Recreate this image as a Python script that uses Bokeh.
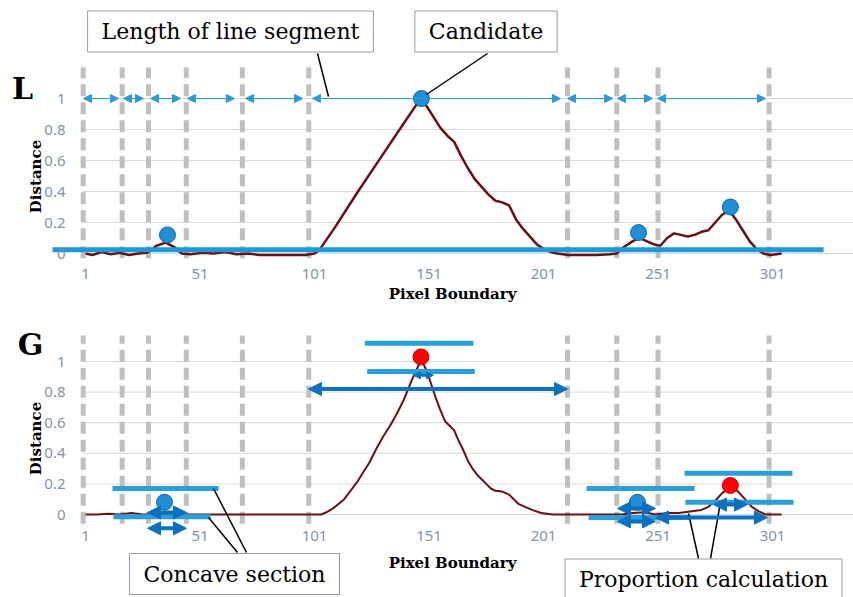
import math
from bokeh.plotting import figure
from bokeh.layouts import column
from bokeh.models import Range1d, FixedTicker, ColumnDataSource, Arrow, NormalHead, Label
from bokeh.embed import file_html
from bokeh.resources import INLINE

# ---------------- data ----------------
x_ticks = [1, 51, 101, 151, 201, 251, 301]
y_ticks = [0, 0.2, 0.4, 0.6, 0.8, 1]
y_tick_labels = ["0", "0.2", "0.4", "0.6", "0.8", "1"]

boundaries = [0, 17, 28.5, 45, 69.5, 98.5, 211.5, 233, 251, 299.5]

L_x = [1, 4, 8, 12, 16, 20, 24, 28, 32, 36, 40, 43, 47, 52, 57, 62, 67, 72, 77, 82,
       87, 92, 97, 101, 103, 110, 120, 130, 140, 146, 148, 150, 153, 156, 159, 162, 165, 168, 171, 174,
       177, 180, 183, 186, 189, 192, 195, 198, 201, 204, 207, 212, 218, 224, 230, 233, 236, 240, 243, 246,
       249, 252, 255, 258, 261, 264, 267, 270, 273, 276, 279, 282, 285, 288, 291, 294, 297, 300, 305]
L_y = [0.0, -0.01, 0.01, -0.005, 0.005, -0.01, 0.0, 0.005, 0.05, 0.07, 0.04, 0.0, -0.005, 0.005, 0.0, 0.01, -0.005, 0.0, -0.01, -0.01,
       -0.01, -0.01, -0.01, 0.0, 0.02, 0.17, 0.40, 0.62, 0.84, 0.97, 1.0, 0.95, 0.88, 0.81, 0.76, 0.72, 0.63, 0.55, 0.48, 0.43,
       0.38, 0.34, 0.33, 0.31, 0.22, 0.16, 0.11, 0.06, 0.03, 0.01, 0.0, -0.01, -0.01, -0.01, -0.005, 0.0, 0.04, 0.08, 0.1, 0.08,
       0.06, 0.05, 0.1, 0.13, 0.12, 0.11, 0.12, 0.14, 0.15, 0.2, 0.25, 0.28, 0.22, 0.15, 0.08, 0.03, 0.0, -0.01, 0.0]

G_x = [1, 6, 11, 16, 21, 26, 31, 36, 41, 46, 51, 61, 71, 81, 91, 101, 104, 107, 110, 114,
       117, 120, 122, 125, 128, 131, 134, 137, 140, 143, 145, 147, 148, 150, 152, 154, 156, 158, 160, 162,
       164, 166, 168, 170, 172, 174, 176, 178, 180, 183, 186, 188, 190, 193, 196, 200, 205, 215, 225, 235,
       240, 245, 250, 255, 260, 265, 270, 273, 276, 279, 282, 284, 286, 289, 292, 295, 298, 305]
G_y = [0.0, 0.0, 0.005, 0.0, 0.01, 0.0, 0.0, 0.005, 0.0, 0.0, 0.0, 0.0, 0.0, 0.0, 0.0, 0.0, 0.0, 0.02, 0.05, 0.1,
       0.16, 0.22, 0.27, 0.34, 0.43, 0.51, 0.58, 0.66, 0.75, 0.86, 0.93, 0.99, 1.0, 0.94, 0.85, 0.76, 0.68, 0.61, 0.58, 0.55,
       0.48, 0.42, 0.35, 0.30, 0.26, 0.23, 0.20, 0.17, 0.155, 0.15, 0.13, 0.10, 0.07, 0.05, 0.03, 0.01, 0.0, 0.0, 0.0, 0.0,
       0.01, 0.015, 0.0, 0.01, 0.01, 0.02, 0.03, 0.05, 0.09, 0.14, 0.17, 0.17, 0.15, 0.10, 0.05, 0.02, 0.0, 0.0]

L_cand_x = [36.8, 147.7, 242.5, 282.6]
L_cand_y = [0.12, 1.0, 0.135, 0.30]
L_threshold = 0.025
L_threshold_x = [-13.4, 323.3]

L_seg_x0 = [0.1, 17.6, 29.4, 45.5, 70.9, 211.5, 233.3, 250.8]
L_seg_x1 = [15.4, 26.3, 42.5, 66.0, 95.8, 231.2, 248.6, 297.9]
L_seg_left = [100.1, 147.3]    # segment ending at the candidate
L_seg_right = [147.3, 208.4]   # segment starting at the candidate
L_seg_y = 1.0

G_blue_x = [35.5, 242.0]
G_blue_y = [0.08, 0.08]
G_red_x = [147.5, 282.6]
G_red_y = [1.03, 0.19]

G_bar_x0 = [12.8, 13.2, 123.0, 124.0, 219.8, 220.7, 262.6, 263.0]
G_bar_x1 = [59.1, 55.6, 170.4, 171.0, 267.0, 265.2, 309.7, 310.2]
G_bar_y = [0.17, -0.015, 1.12, 0.935, 0.17, -0.02, 0.27, 0.08]

G_arr_x0 = [98.4, 28.1, 28.1, 233.3, 233.3, 249.9, 275.2]
G_arr_x1 = [211.5, 45.1, 45.1, 249.9, 249.9, 298.8, 290.1]
G_arr_y = [0.82, 0.013, -0.09, 0.04, -0.045, -0.02, 0.065]
G_small_arr = [144.2, 152.9, 0.91]

# ---------------- layout helpers (page pixels -> data) ----------------
W = 853
H1, H2 = 306, 291

def tx(px):
    return 1 + (px - 85) / 2.29
def ty(py):
    return (253 - py) / 155
def by(py):
    return (514 - py) / 153

X0, X1 = tx(0), tx(W)

SERIF = "DejaVu Serif"
TICKC = "#7f93ad"
GRID = "#d9d9d9"
DASH = "#bfbfbf"
CURVE = "#6b1010"
LBLUE = "#2aa0da"
DBLUE = "#0a70c0"


def make_fig(height, y0, y1, x_standoff):
    p = figure(width=W, height=height, x_range=Range1d(X0, X1), y_range=Range1d(y0, y1),
               output_backend="svg", toolbar_location=None,
               min_border_left=0, min_border_right=0, min_border_top=0, min_border_bottom=0,
               outline_line_color=None, background_fill_color="white", border_fill_color="white")
    p.xgrid.visible = False
    p.ygrid.visible = False
    for ax in (p.xaxis[0], p.yaxis[0]):
        ax.axis_line_color = None
        ax.major_tick_line_color = None
        ax.minor_tick_line_color = None
        ax.major_label_text_font = "Noto Sans"
        ax.major_label_text_font_size = "15px"
        ax.major_label_text_color = TICKC
    p.xaxis.ticker = FixedTicker(ticks=x_ticks)
    p.xaxis.major_label_standoff = x_standoff
    p.yaxis.ticker = FixedTicker(ticks=y_ticks)
    p.yaxis.major_label_overrides = {t: s for t, s in zip(y_ticks, y_tick_labels)}
    p.yaxis.major_label_standoff = -71
    # horizontal grid lines
    p.segment(x0=[0] * len(y_ticks), x1=[X1] * len(y_ticks), y0=y_ticks, y1=y_ticks,
              line_color=GRID, line_width=1)
    return p


def text_label(p, text, x, y, size, bold=False, angle=0.0):
    p.add_layout(Label(x=x, y=y, text=text, text_font=SERIF, text_font_size=size,
                       text_font_style="bold" if bold else "normal", angle=angle,
                       text_align="center", text_baseline="middle", text_color="black"))


def box_label(p, text, x, y):
    p.add_layout(Label(x=x, y=y, text=text, text_font=SERIF,
                       text_font_size="22px", text_align="center", text_baseline="middle",
                       text_color="black", background_fill_color="white",
                       border_line_color="#9a9a9a", border_line_width=1, padding=(14, 8)))


# ---------------- top panel (L) ----------------
p1 = make_fig(H1, ty(H1), ty(0), -44)
p1.segment(x0=boundaries, x1=boundaries, y0=[-0.03] * len(boundaries), y1=[1.2] * len(boundaries),
           line_color=DASH, line_width=5, line_dash="12 6")
p1.line(L_x, L_y, line_color=CURVE, line_width=2.5)
p1.segment(x0=[L_threshold_x[0]], x1=[L_threshold_x[1]], y0=[L_threshold], y1=[L_threshold],
           line_color="#1e98d6", line_width=5)

def thin_head():
    return NormalHead(size=8, fill_color="#2b9bd8", line_color="#2b9bd8", line_width=1)

src_L = ColumnDataSource(dict(x0=L_seg_x0, x1=L_seg_x1, y=[L_seg_y] * len(L_seg_x0)))
p1.add_layout(Arrow(start=thin_head(), end=thin_head(), x_start="x0", y_start="y", x_end="x1", y_end="y",
                    source=src_L, line_color="#2b9bd8", line_width=1))
p1.add_layout(Arrow(start=thin_head(), end=None, x_start=L_seg_left[0], y_start=L_seg_y,
                    x_end=L_seg_left[1], y_end=L_seg_y, line_color="#2b9bd8", line_width=1))
p1.add_layout(Arrow(start=None, end=thin_head(), x_start=L_seg_right[0], y_start=L_seg_y,
                    x_end=L_seg_right[1], y_end=L_seg_y, line_color="#2b9bd8", line_width=1))
p1.scatter(L_cand_x, L_cand_y, size=16, fill_color="#1f8fd6", line_color="#17639e", line_width=1)

# leader lines (annotation pointers)
p1.segment(x0=[tx(317), tx(487)], y0=[ty(53), ty(53)], x1=[tx(328), tx(426)], y1=[ty(96), ty(94)],
           line_color="black", line_width=1.5)
box_label(p1, "Length of line segment", tx(230), ty(31))
box_label(p1, "Candidate", tx(485.5), ty(31))
text_label(p1, "L", tx(22), ty(88), "30px", bold=True)
text_label(p1, "Distance", tx(35), ty(176), "15px", bold=True, angle=math.pi / 2)
text_label(p1, "Pixel Boundary", tx(452), ty(293), "15px", bold=True)

# ---------------- bottom panel (G) ----------------
p2 = make_fig(H2, by(H1 + H2), by(H1), -73)
p2.segment(x0=boundaries, x1=boundaries, y0=[-0.06] * len(boundaries), y1=[1.17] * len(boundaries),
           line_color=DASH, line_width=5, line_dash="12 6")
p2.line(G_x, G_y, line_color=CURVE, line_width=2)
p2.scatter(G_blue_x, G_blue_y, size=16, fill_color="#1f8fd6", line_color="#17639e", line_width=1)
p2.scatter(G_red_x, G_red_y, size=16, fill_color="#ff0000", line_color="#e00000", line_width=1)
p2.segment(x0=G_bar_x0, x1=G_bar_x1, y0=G_bar_y, y1=G_bar_y, line_color=LBLUE, line_width=5)

def big_head(s=13):
    return NormalHead(size=s, fill_color=DBLUE, line_color=DBLUE, line_width=1)

src_G = ColumnDataSource(dict(x0=G_arr_x0, x1=G_arr_x1, y=G_arr_y))
p2.add_layout(Arrow(start=big_head(), end=big_head(), x_start="x0", y_start="y", x_end="x1", y_end="y",
                    source=src_G, line_color=DBLUE, line_width=4))
p2.add_layout(Arrow(start=big_head(7), end=big_head(7), x_start=G_small_arr[0], y_start=G_small_arr[2],
                    x_end=G_small_arr[1], y_end=G_small_arr[2], line_color=DBLUE, line_width=3))

p2.segment(x0=[tx(213), tx(208), tx(688), tx(720)], y0=[by(488), by(517), by(513), by(502)],
           x1=[tx(246), tx(237), tx(698), tx(710)], y1=[by(552), by(552), by(558), by(558)],
           line_color="black", line_width=1.5)
box_label(p2, "Concave section", tx(234), by(573.5))
box_label(p2, "Proportion calculation", tx(703), by(579))
text_label(p2, "G", tx(30), by(344), "30px", bold=True)
text_label(p2, "Distance", tx(35), by(438), "15px", bold=True, angle=math.pi / 2)
text_label(p2, "Pixel Boundary", tx(452), by(562), "15px", bold=True)

layout = column(p1, p2, spacing=0)
open("out.html", "w").write(file_html(layout, INLINE))
